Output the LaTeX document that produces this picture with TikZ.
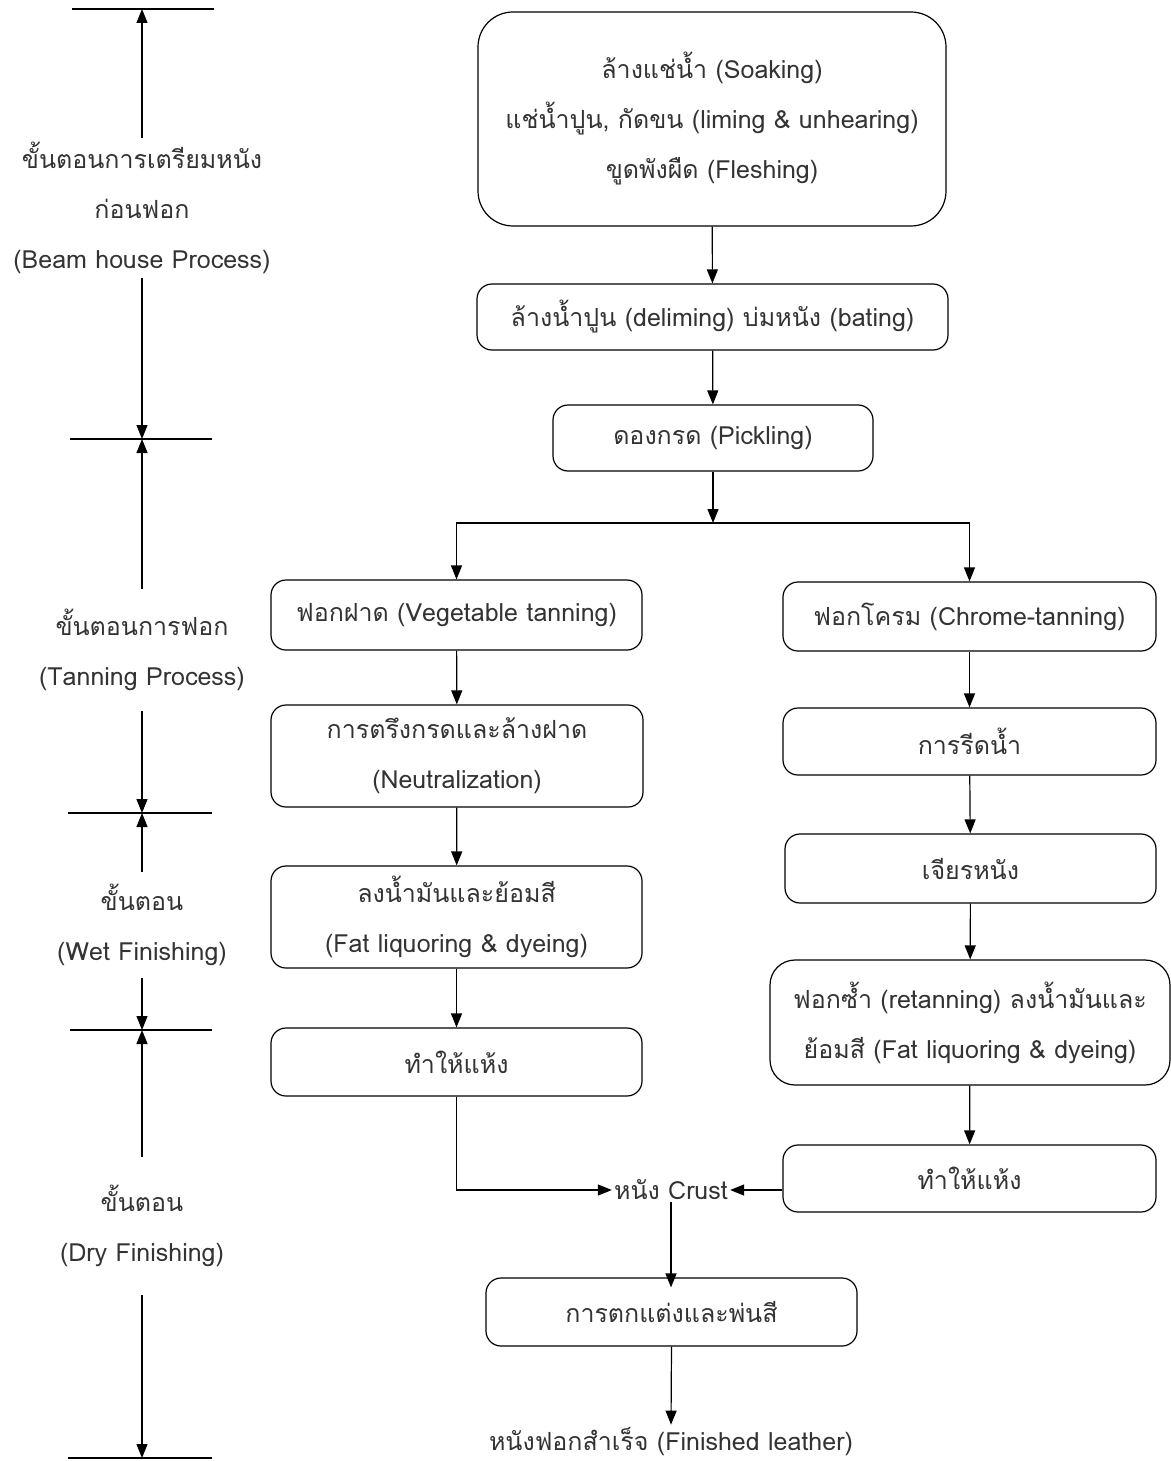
\documentclass[tikz,border=0pt]{standalone}
\usepackage{fontspec}
\setmainfont[Script=Thai]{Loma}
\usepackage{tikz}
\usetikzlibrary{arrows.meta}

\begin{document}
\begin{tikzpicture}[x=1pt,y=-1pt,
        font=\fontsize{25}{50}\selectfont,
        text=black!80,
        >={Triangle[length=14pt,width=11pt]},
        box/.style={draw,line width=1.2pt,rounded corners=15pt,align=center,inner sep=0pt},
        flow/.style={->,line width=1.2pt},
        tick/.style={line width=1.2pt},
        stage/.style={align=center,inner xsep=2pt}]
        \useasboundingbox (0,0) rectangle (1170,1461);
        % Stage ticks
        \coordinate (t0) at (142,9);
        \coordinate (t1) at (142,439);
        \coordinate (t2) at (142,813);
        \coordinate (t3) at (142,1030);
        \coordinate (t4) at (142,1458);
        \draw[tick](72,9)--(214,9);
        \draw[tick](70,439)--(212,439);
        \draw[tick](68,813)--(212,813);
        \draw[tick](70,1030)--(212,1030);
        \draw[tick](68,1458)--(212,1458);
        % Stage labels
        \node[stage,inner ysep=4pt](beam) at (142,208){ขั้นตอนการเตรียมหนัง\\ก่อนฟอก\\(Beam house Process)};
        \node[stage,inner ysep=20pt](tan) at (142,650){ขั้นตอนการฟอก\\(Tanning Process)};
        \node[stage,inner ysep=12pt](wet) at (142,925){ขั้นตอน\\(Wet Finishing)};
        \node[stage,inner ysep=28pt](dry) at (142,1226){ขั้นตอน\\(Dry Finishing)};
        \draw[flow](beam.north)--(t0);
        \draw[flow](beam.south)--(t1);
        \draw[flow](tan.north)--(t1);
        \draw[flow](tan.south)--(t2);
        \draw[flow](wet.north)--(t2);
        \draw[flow](wet.south)--(t3);
        \draw[flow](dry.north)--(t3);
        \draw[flow](dry.south)--(t4);
        % Beam house
        \node[box,rounded corners=35pt,minimum width=468pt,minimum height=214pt](soak) at (712,119){ล้างแช่น้ำ (Soaking)\\แช่น้ำปูน, กัดขน (liming \& unhearing)\\ขูดพังผืด (Fleshing)};
        \node[box,minimum width=471pt,minimum height=66pt](delime) at (712.5,317){ล้างน้ำปูน (deliming) บ่มหนัง (bating)};
        \node[box,minimum width=320pt,minimum height=66pt](pickle) at (713,438){ดองกรด (Pickling)};
        \coordinate (split) at (713,523);
        % Vegetable tanning
        \node[box,minimum width=371pt,minimum height=70pt](veg) at (456.5,615){ฟอกฝาด (Vegetable tanning)};
        \node[box,minimum width=372pt,minimum height=102pt](neutral) at (457,756){การตรึงกรดและล้างฝาด\\(Neutralization)};
        \node[box,minimum width=371pt,minimum height=102pt](fatveg) at (456.5,917){ลงน้ำมันและย้อมสี\\(Fat liquoring \& dyeing)};
        \node[box,minimum width=371pt,minimum height=68pt](dryveg) at (456.5,1062){ทำให้แห้ง};
        % Chrome tanning
        \node[box,minimum width=373pt,minimum height=69pt](chrome) at (969.5,616.5){ฟอกโครม (Chrome-tanning)};
        \node[box,minimum width=373pt,minimum height=67pt](squeeze) at (969.5,741.5){การรีดน้ำ};
        \node[box,minimum width=371pt,minimum height=69pt](shave) at (970.5,868.5){เจียรหนัง};
        \node[box,rounded corners=25pt,minimum width=400pt,minimum height=125pt](retan) at (970,1022.5){ฟอกซ้ำ (retanning) ลงน้ำมันและ\\ย้อมสี (Fat liquoring \& dyeing)};
        \node[box,minimum width=373pt,minimum height=67pt](drychrome) at (969.5,1178.5){ทำให้แห้ง};
        % Finishing
        \node[inner sep=2pt](crust) at (671,1190){หนัง Crust};
        \node[box,minimum width=371pt,minimum height=68pt](finish) at (671.5,1312){การตกแต่งและพ่นสี};
        \node[inner sep=3pt](leather) at (671,1442){หนังฟอกสำเร็จ (Finished leather)};
        % Connectors
        \draw[flow](soak)--(delime);
        \draw[flow](delime)--(pickle);
        \draw[flow](pickle)--(split);
        \draw[flow](split)-|(veg.north);
        \draw[flow](split)-|(chrome.north);
        \draw[flow](veg)--(neutral);
        \draw[flow](neutral)--(fatveg);
        \draw[flow](fatveg)--(dryveg);
        \draw[flow](chrome)--(squeeze);
        \draw[flow](squeeze)--(shave);
        \draw[flow](shave)--(retan);
        \draw[flow](retan)--(drychrome);
        \draw[flow](dryveg.south)|-(crust.west);
        \draw[flow](drychrome.west|-crust.east)--(crust.east);
        \draw[flow](crust.south)--([yshift=-10pt]crust.south|-finish.north);
        \draw[flow](finish.south)--(leather.north);
\end{tikzpicture}
\end{document}
